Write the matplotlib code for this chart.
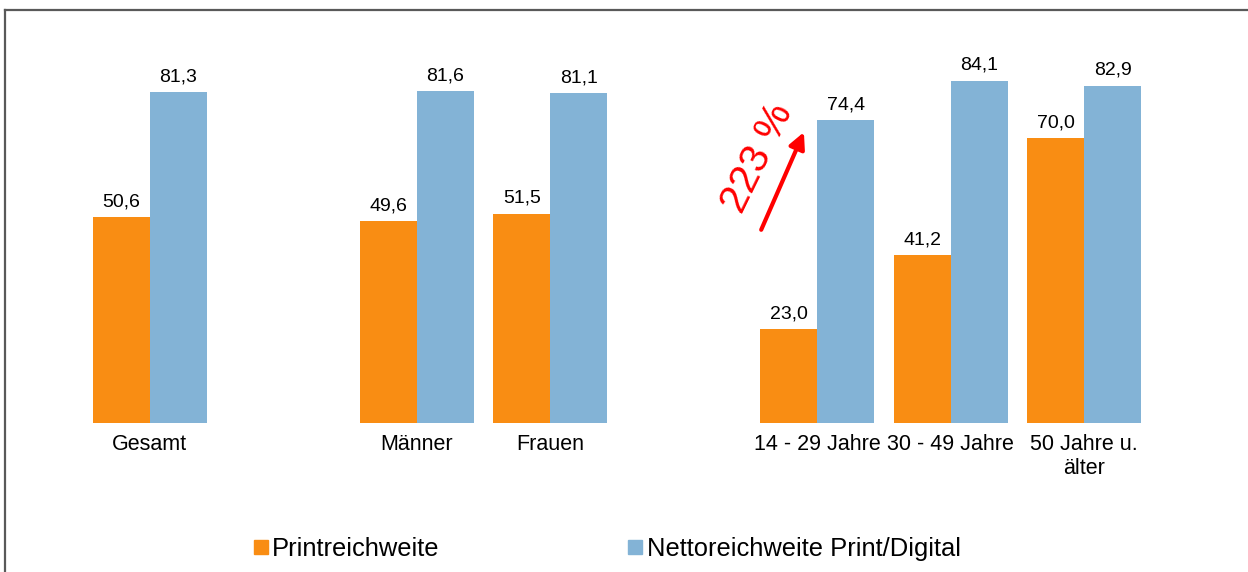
import matplotlib.pyplot as plt
from matplotlib.lines import Line2D

plt.rcParams['font.family'] = ['Liberation Sans', 'DejaVu Sans']

# Reichweite in Prozent, gruppiert: Gesamt | Geschlecht | Alter
groups = [
    ['Gesamt'],
    ['Männer', 'Frauen'],
    ['14 - 29 Jahre', '30 - 49 Jahre', '50 Jahre u.\nälter'],
]
print_vals = [50.6, 49.6, 51.5, 23.0, 41.2, 70.0]
netto_vals = [81.3, 81.6, 81.1, 74.4, 84.1, 82.9]
series_names = ['Printreichweite', 'Nettoreichweite Print/Digital']
colors = ['#F98D13', '#83B3D6']
growth_label = '223 %'

# one empty slot between groups
labels, xpos = [], []
slot = 0
for g in groups:
    for name in g:
        labels.append(name)
        xpos.append(slot)
        slot += 1
    slot += 1
n_slots = slot - 1

fig = plt.figure(figsize=(12.48, 5.72), dpi=100)
ax = fig.add_axes([0.0665, 0.2605, 0.8558, 0.64])

w = 0.427
xs_p = [x - w / 2 for x in xpos]
xs_n = [x + w / 2 for x in xpos]
b1 = ax.bar(xs_p, print_vals, width=w, color=colors[0], linewidth=0)
b2 = ax.bar(xs_n, netto_vals, width=w, color=colors[1], linewidth=0)

for bars, vals in ((b1, print_vals), (b2, netto_vals)):
    for rect, v in zip(bars, vals):
        ax.annotate(f'{v:.1f}'.replace('.', ','),
                    (rect.get_x() + rect.get_width() / 2, v),
                    xytext=(0, 5), textcoords='offset points',
                    ha='center', va='bottom', fontsize=14)

ax.set_xlim(-0.5, n_slots - 0.5)
ax.set_ylim(0, 90)
ax.set_xticks(xpos)
ax.set_xticklabels(labels, fontsize=15.5, linespacing=1.2)
ax.tick_params(axis='x', length=0, pad=8)
ax.set_yticks([])
for s in ax.spines.values():
    s.set_visible(False)

# growth arrow next to the young age group
young = xpos[3]
ax.annotate('', xy=(young - 0.1, 71.5), xytext=(young - 0.42, 47.5),
            arrowprops=dict(arrowstyle='-|>', color='red', lw=3,
                            mutation_scale=24, shrinkA=0, shrinkB=0))
ax.text(young - 0.45, 65.2, growth_label, color='red', fontsize=29.5,
        rotation=64, ha='center', va='center', rotation_mode='anchor')

handles = [Line2D([], [], marker='s', linestyle='none', markersize=9.5,
                  markerfacecolor=c, markeredgecolor=c) for c in colors]
fig.legend(handles, series_names, loc='center', ncol=2,
           bbox_to_anchor=(0.4868, 0.04), frameon=False, fontsize=18.4,
           handlelength=0.5, handletextpad=0.2, columnspacing=7.4)

# frame lines at left and top
frame = dict(color='#595959', lw=1.6, transform=fig.transFigure)
fig.add_artist(Line2D([0.0042, 0.0042], [0, 0.9825], **frame))
fig.add_artist(Line2D([0.0042, 0.999], [0.9825, 0.9825], **frame))

fig.savefig('out.png', dpi=100, facecolor='white')
